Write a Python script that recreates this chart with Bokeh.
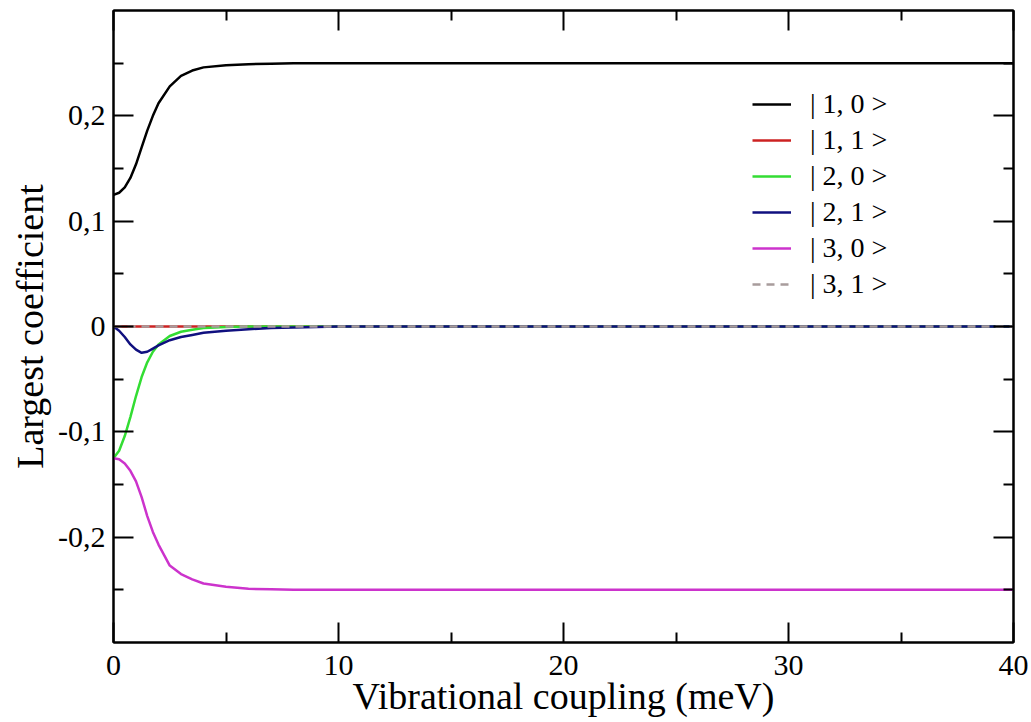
from bokeh.plotting import figure
from bokeh.models import LinearAxis, Legend, LegendItem, Range1d, FixedTicker
from bokeh.embed import file_html
from bokeh.resources import INLINE

# ---- data ----
x_mev = [0, 0.25, 0.5, 0.75, 1.0, 1.25, 1.5, 1.75, 2.0, 2.5, 3.0, 3.5, 4.0, 5.0, 6.0, 7.0, 8.0, 10.0, 40.0]
c_10 = [0.125, 0.127, 0.132, 0.141, 0.154, 0.170, 0.186, 0.200, 0.212, 0.228, 0.238, 0.243, 0.246, 0.248, 0.249, 0.2495, 0.25, 0.25, 0.25]
c_11 = [0.0, 0.0, 0.0, 0.0, 0.0, 0.0, 0.0, 0.0, 0.0, 0.0, 0.0, 0.0, 0.0, 0.0, 0.0, 0.0, 0.0, 0.0, 0.0]
c_20 = [-0.125, -0.118, -0.104, -0.086, -0.066, -0.048, -0.034, -0.024, -0.017, -0.009, -0.005, -0.003, -0.0015, -0.0005, 0.0, 0.0, 0.0, 0.0, 0.0]
c_21 = [0.0, -0.004, -0.010, -0.017, -0.022, -0.025, -0.024, -0.021, -0.018, -0.013, -0.010, -0.008, -0.006, -0.004, -0.0025, -0.0015, -0.001, 0.0, 0.0]
c_30 = [-0.125, -0.126, -0.130, -0.137, -0.147, -0.162, -0.180, -0.195, -0.207, -0.227, -0.235, -0.240, -0.244, -0.247, -0.249, -0.2495, -0.25, -0.25, -0.25]
c_31 = [0.0, 0.0, 0.0, 0.0, 0.0, 0.0, 0.0, 0.0, 0.0, 0.0, 0.0, 0.0, 0.0, 0.0, 0.0, 0.0, 0.0, 0.0, 0.0]

series_labels = ["| 1, 0 >", "| 1, 1 >", "| 2, 0 >", "| 2, 1 >", "| 3, 0 >", "| 3, 1 >"]
series_values = [c_10, c_11, c_20, c_21, c_30, c_31]
series_colors = ["#000000", "#cc2222", "#33dd33", "#10107f", "#cc33cc", "#a89c9c"]
series_dash = ["solid", "solid", "solid", "solid", "solid", "8 6"]

x_ticks = [0, 10, 20, 30, 40]
x_minor = [5, 15, 25, 35]
y_ticks = [-0.2, -0.1, 0, 0.1, 0.2]
y_minor = [-0.25, -0.15, -0.05, 0.05, 0.15, 0.25]
y_tick_labels = ["-0,2", "-0,1", "0", "0,1", "0,2"]

FONT = "Liberation Serif"

p = figure(width=1031, height=722, frame_width=900, frame_height=632,
           x_range=Range1d(0, 40), y_range=Range1d(-0.3, 0.3),
           output_backend="svg", toolbar_location=None,
           min_border_left=113, min_border_right=18, min_border_top=10, min_border_bottom=80)
p.xgrid.visible = False
p.ygrid.visible = False
p.outline_line_color = "black"
p.outline_line_width = 2
p.background_fill_color = "white"
p.border_fill_color = "white"

xt = FixedTicker(ticks=x_ticks, minor_ticks=x_minor)
yt = FixedTicker(ticks=y_ticks, minor_ticks=y_minor)
overrides = {t: l for t, l in zip(y_ticks, y_tick_labels)}


def style_axis(ax, show_labels):
    ax.axis_line_width = 2
    ax.major_tick_line_width = 2
    ax.minor_tick_line_width = 2
    ax.major_tick_in = 20
    ax.major_tick_out = 0
    ax.minor_tick_in = 10
    ax.minor_tick_out = 0
    ax.major_label_text_font = FONT
    if show_labels:
        ax.major_label_text_font_size = "30px"
        ax.major_label_text_color = "black"
    else:
        ax.major_label_text_font_size = "1px"
        ax.major_label_text_color = None
        ax.major_label_standoff = 0
    ax.axis_label_text_font = FONT
    ax.axis_label_text_font_size = "38px"
    ax.axis_label_text_font_style = "normal"
    ax.axis_label_text_color = "black"


p.xaxis.ticker = xt
p.yaxis.ticker = yt
p.yaxis.major_label_overrides = overrides
style_axis(p.xaxis[0], True)
style_axis(p.yaxis[0], True)
p.xaxis.axis_label = "Vibrational coupling (meV)"
p.yaxis.axis_label = "Largest coefficient"
p.xaxis.major_label_standoff = 13
p.yaxis.major_label_standoff = 8
p.xaxis.axis_label_standoff = -3
p.yaxis.axis_label_standoff = 4

top_ax = LinearAxis(ticker=xt)
style_axis(top_ax, False)
p.add_layout(top_ax, "above")
right_ax = LinearAxis(ticker=yt)
style_axis(right_ax, False)
p.add_layout(right_ax, "right")

items = []
for lab, vals, col, dash in zip(series_labels, series_values, series_colors, series_dash):
    r = p.line(x_mev, vals, line_color=col, line_width=2.5, line_dash=dash)
    items.append(LegendItem(label=lab, renderers=[r]))

legend = Legend(items=items, location=(639, 342), padding=0, margin=0,
                border_line_alpha=0, background_fill_alpha=0,
                glyph_width=39, glyph_height=20, label_standoff=19, spacing=4,
                label_text_font=FONT, label_text_font_size="28px", label_height=20,
                label_text_color="black")
p.add_layout(legend, "center")

open("out.html", "w").write(file_html(p, INLINE))
